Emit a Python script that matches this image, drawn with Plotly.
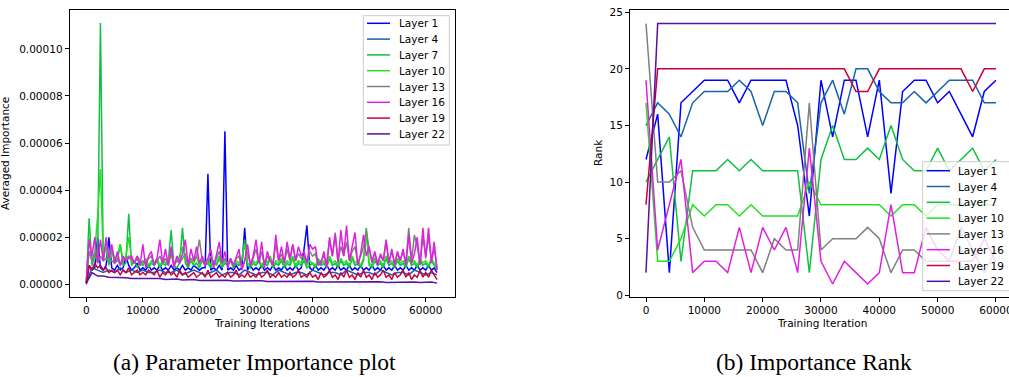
import plotly.graph_objects as go

W, H = 1009, 377

# ---------------- data ----------------
LAYERS = ["Layer 1", "Layer 4", "Layer 7", "Layer 10",
          "Layer 13", "Layer 16", "Layer 19", "Layer 22"]
COLORS = ["#0000ff", "#1764ab", "#10c040", "#22e022",
          "#808080", "#e020e0", "#c8003c", "#5c0fa0"]

# (a) averaged importance, values in units of 1e-6
IMP_UNIT = 1e-6
ITER_FINE = list(range(0, 62001, 500))      # 125 samples
ITER_COARSE = list(range(0, 62001, 1000))   # 63 samples

imp_layer1 = [
    0.5, 8, 6, 7, 20, 7, 6, 8, 20, 7,
    6, 8, 6, 7, 12, 8, 6, 7, 9, 6,
    7, 6, 8, 6, 7, 6, 8, 6, 7, 6,
    8, 6, 7, 6, 8, 6, 7, 6, 8, 7,
    6, 7, 7, 47, 6, 7, 6, 8, 6, 65,
    6, 7, 6, 8, 6, 7, 24, 6, 8, 6,
    7, 6, 8, 6, 7, 6, 8, 6, 7, 6,
    8, 6, 7, 6, 8, 6, 7, 15, 25, 7,
    6, 8, 6, 7, 6, 8, 6, 7, 6, 8,
    6, 7, 6, 8, 6, 7, 6, 8, 6, 7,
    6, 8, 6, 7, 6, 8, 6, 7, 6, 8,
    6, 7, 6, 8, 6, 7, 6, 8, 6, 7,
    6, 8, 6, 7, 5]
imp_layer4 = [
    0.5, 7, 6, 5, 6, 5, 7, 5, 6, 5,
    6, 5, 5, 6, 5, 5, 6, 4, 5, 6,
    5, 4, 5, 6, 4, 5, 5, 4, 6, 5,
    4, 5, 5, 4, 6, 5, 4, 5, 5, 4,
    6, 5, 4, 5, 5, 4, 6, 5, 4, 5,
    5, 4, 6, 5, 4, 5, 5, 4, 6, 5,
    4, 5, 4]
imp_layer7 = [
    0.5, 28, 8, 12, 10, 111, 10, 17, 8, 15,
    9, 10, 17, 8, 9, 30, 8, 10, 7, 9,
    8, 10, 7, 9, 8, 10, 7, 9, 8, 10,
    23, 8, 7, 9, 24, 9, 7, 10, 8, 9,
    7, 10, 8, 9, 7, 10, 8, 11, 7, 9,
    8, 10, 7, 9, 8, 10, 19, 8, 7, 9,
    8, 10, 7, 9, 8, 11, 7, 9, 8, 10,
    7, 9, 8, 11, 7, 9, 8, 10, 7, 8,
    9, 7, 10, 8, 9, 7, 11, 8, 9, 7,
    10, 8, 9, 7, 11, 8, 9, 7, 10, 24,
    8, 7, 10, 8, 9, 7, 11, 8, 9, 7,
    10, 8, 9, 7, 11, 8, 9, 7, 10, 8,
    9, 7, 10, 8, 6]
imp_layer10 = [
    0.5, 20, 10, 14, 29, 49, 11, 17, 10, 16,
    11, 12, 17, 10, 12, 20, 11, 9, 12, 10,
    9, 11, 8, 10, 9, 11, 8, 10, 9, 11,
    14, 9, 10, 12, 16, 11, 8, 10, 9, 12,
    8, 10, 9, 11, 8, 10, 9, 12, 8, 10,
    9, 11, 8, 10, 9, 11, 17, 9, 8, 10,
    9, 11, 8, 10, 9, 12, 8, 10, 9, 11,
    8, 10, 9, 12, 8, 10, 9, 11, 8, 10,
    9, 8, 11, 9, 10, 8, 12, 9, 10, 8,
    11, 9, 10, 8, 12, 9, 10, 8, 11, 21,
    9, 8, 11, 9, 10, 8, 12, 9, 10, 8,
    11, 9, 10, 8, 12, 9, 10, 8, 11, 9,
    10, 8, 11, 9, 7]
imp_layer13 = [
    1, 14, 10, 13, 9, 12, 10, 11, 9, 10,
    9, 11, 8, 10, 11, 12, 10, 9, 11, 8,
    10, 9, 11, 12, 8, 10, 12, 9, 11, 8,
    13, 8, 10, 9, 11, 13, 8, 11, 10, 12,
    19, 10, 8, 9, 12, 8, 11, 14, 9, 11,
    8, 10, 8, 11, 12, 7, 10, 14, 8, 11,
    15, 9, 14, 8, 12, 10, 9, 17, 10, 13,
    9, 15, 10, 17, 10, 13, 11, 12, 9, 14,
    12, 13, 8, 10, 12, 9, 19, 12, 22, 10,
    16, 12, 18, 10, 14, 16, 9, 12, 16, 23,
    15, 10, 13, 9, 12, 10, 18, 9, 14, 9,
    13, 10, 14, 9, 24, 10, 21, 16, 9, 20,
    12, 20, 10, 15, 7]
imp_layer16 = [
    1, 19, 12, 20, 9, 19, 10, 20, 11, 17,
    9, 14, 8, 12, 10, 11, 12, 9, 12, 8,
    17, 7, 12, 14, 8, 11, 19, 9, 15, 8,
    16, 7, 12, 9, 13, 19, 8, 15, 10, 16,
    9, 12, 8, 11, 15, 7, 13, 18, 9, 14,
    7, 11, 8, 12, 15, 6, 10, 17, 8, 12,
    19, 9, 18, 7, 14, 10, 8, 21, 10, 16,
    9, 18, 11, 17, 10, 16, 12, 14, 9, 17,
    15, 16, 8, 9, 14, 7, 20, 12, 21, 9,
    23, 12, 25, 10, 16, 22, 8, 13, 21, 12,
    16, 9, 14, 8, 13, 10, 19, 9, 15, 8,
    14, 10, 15, 8, 21, 9, 13, 20, 8, 24,
    11, 24, 9, 18, 6]
imp_layer19 = [
    0, 8, 6, 9, 7, 8, 6, 7, 5, 6,
    5, 6, 4, 6, 5, 7, 4, 5, 6, 4,
    5, 4, 6, 5, 4, 6, 3, 5, 4, 6,
    4, 5, 3, 6, 4, 5, 3, 4, 5, 3,
    4, 5, 3, 6, 3, 4, 5, 3, 4, 3,
    5, 3, 4, 6, 3, 4, 3, 5, 3, 4,
    3, 5, 3, 4, 6, 3, 4, 3, 5, 3,
    4, 3, 5, 3, 4, 6, 3, 4, 3, 5,
    3, 4, 2, 5, 3, 4, 6, 3, 4, 2,
    5, 3, 6, 3, 4, 2, 5, 3, 6, 3,
    4, 2, 5, 3, 4, 6, 3, 4, 2, 5,
    3, 4, 6, 3, 5, 2, 4, 3, 6, 3,
    5, 3, 6, 4, 2]
imp_layer22 = [
    0.5, 5, 3.5, 3.5, 3, 3, 2.8, 2.8, 2.5, 2.5,
    2.3, 2.3, 2.2, 2.5, 2, 2, 2.2, 1.8, 1.8, 2,
    1.6, 1.6, 1.8, 1.5, 1.5, 1.7, 1.4, 1.4, 1.6, 1.3,
    1.3, 1.5, 1.2, 1.2, 1.4, 1.2, 1.1, 1.3, 1.1, 1.1,
    1.3, 1.0, 1.0, 1.2, 1.0, 0.9, 1.1, 0.9, 1.0, 1.1,
    0.9, 0.9, 1.1, 0.8, 0.9, 1.0, 0.8, 0.9, 1.0, 0.8,
    0.8, 1.0, 0.5]

IMP_SERIES = [
    (ITER_FINE, imp_layer1), (ITER_COARSE, imp_layer4),
    (ITER_FINE, imp_layer7), (ITER_FINE, imp_layer10),
    (ITER_FINE, imp_layer13), (ITER_FINE, imp_layer16),
    (ITER_FINE, imp_layer19), (ITER_COARSE, imp_layer22),
]

IMP_XTICKS = [0, 10000, 20000, 30000, 40000, 50000, 60000]
IMP_YTICKS = [0, 2e-5, 4e-5, 6e-5, 8e-5, 1e-4]
IMP_YTICKTEXT = ["0.00000", "0.00002", "0.00004", "0.00006", "0.00008", "0.00010"]

# (b) importance rank
RANK_ITER = list(range(0, 60001, 2000))   # 31 samples
rank_layer1 = [12, 16, 2, 17, 18, 19, 19, 19, 17, 19, 19, 19, 19, 15, 7, 19,
               14, 19, 19, 14, 19, 9, 18, 19, 19, 17, 18, 16, 14, 18, 19]
rank_layer4 = [15, 17, 16, 14, 17, 18, 18, 18, 19, 18, 15, 18, 18, 17, 9, 17,
               19, 16, 20, 20, 18, 17, 17, 18, 17, 18, 19, 19, 19, 17, 17]
rank_layer7 = [10, 12, 14, 3, 11, 11, 11, 12, 11, 12, 11, 11, 11, 11, 2, 12,
               15, 12, 12, 13, 12, 15, 12, 11, 11, 13, 11, 12, 13, 11, 12]
rank_layer10 = [17, 3, 3, 5, 8, 7, 8, 8, 7, 8, 7, 7, 7, 7, 10, 8,
                8, 8, 8, 8, 8, 7, 8, 8, 7, 8, 8, 8, 8, 8, 8]
rank_layer13 = [24, 10, 10, 11, 6, 4, 4, 4, 4, 4, 2, 5, 4, 4, 17, 4,
                5, 5, 5, 6, 5, 2, 4, 4, 3, 3, 3, 6, 4, 2, 4]
rank_layer16 = [19, 4, 8, 12, 2, 3, 3, 2, 6, 2, 6, 4, 6, 2, 13, 3,
                1, 3, 2, 1, 2, 8, 2, 2, 6, 4, 3, 3, 3, 5, 3]
rank_layer19 = [8, 20, 20, 20, 20, 20, 20, 20, 20, 20, 20, 20, 20, 20, 20, 20,
                20, 20, 18, 18, 20, 20, 20, 20, 20, 20, 20, 20, 18, 20, 20]
rank_layer22 = [2, 24, 24, 24, 24, 24, 24, 24, 24, 24, 24, 24, 24, 24, 24, 24,
                24, 24, 24, 24, 24, 24, 24, 24, 24, 24, 24, 24, 24, 24, 24]
RANK_SERIES = [rank_layer1, rank_layer4, rank_layer7, rank_layer10,
               rank_layer13, rank_layer16, rank_layer19, rank_layer22]
RANK_XTICKS = [0, 10000, 20000, 30000, 40000, 50000, 60000]
RANK_YTICKS = [0, 5, 10, 15, 20, 25]

for xs, ys in IMP_SERIES:
    assert len(xs) == len(ys), (len(xs), len(ys))
for ys in RANK_SERIES:
    assert len(ys) == len(RANK_ITER)

# ---------------- helpers ----------------
def PX(x):
    return x / W


def PY(y):
    return 1 - y / H


FONT = "DejaVu Sans"
FS = 10.5

fig = go.Figure()

for name, color, (xs, ys) in zip(LAYERS, COLORS, IMP_SERIES):
    fig.add_trace(go.Scatter(
        x=xs, y=[v * IMP_UNIT for v in ys], mode="lines", name=name,
        line=dict(color=color, width=1.5), xaxis="x", yaxis="y",
        showlegend=False))

for name, color, ys in zip(LAYERS, COLORS, RANK_SERIES):
    fig.add_trace(go.Scatter(
        x=RANK_ITER, y=ys, mode="lines", name=name,
        line=dict(color=color, width=1.5), xaxis="x2", yaxis="y2",
        showlegend=False))

axis_common = dict(showgrid=False, zeroline=False, showline=True,
                   linecolor="black", linewidth=1, ticks="outside",
                   ticklen=4, tickwidth=1, tickcolor="black",
                   ticklabeloverflow="allow",
                   tickfont=dict(family=FONT, size=FS, color="black"))

fig.update_layout(
    width=W, height=H,
    margin=dict(l=0, r=0, t=0, b=0, autoexpand=False),
    paper_bgcolor="white", plot_bgcolor="white",
    font=dict(family=FONT, size=FS, color="black"),
    showlegend=False,
    xaxis=dict(domain=[PX(69.7), PX(454.7)], range=[-2934, 65123],
               anchor="y", tickvals=IMP_XTICKS, tickformat="d",
               mirror=True, **axis_common),
    yaxis=dict(domain=[PY(296.7), PY(10.3)], range=[-5.27e-6, 116.4e-6],
               anchor="x", tickvals=IMP_YTICKS, ticktext=IMP_YTICKTEXT,
               mirror=True, **axis_common),
    xaxis2=dict(domain=[PX(630), 1.0], range=[-2743, 62232],
                anchor="y2", tickvals=RANK_XTICKS, tickformat="d",
                mirror=True, **axis_common),
    yaxis2=dict(domain=[PY(296.7), PY(10)], range=[-0.124, 25.2],
                anchor="x2", tickvals=RANK_YTICKS, mirror=False,
                **axis_common),
)

annotations = []
shapes = []

# axis titles
annotations.append(dict(text="Training Iterations", x=PX(262), y=PY(323),
                        xref="paper", yref="paper", showarrow=False,
                        xanchor="center", yanchor="middle",
                        font=dict(family=FONT, size=FS, color="black")))
annotations.append(dict(text="Averaged Importance", x=PX(5), y=PY(154),
                        xref="paper", yref="paper", showarrow=False,
                        textangle=-90, xanchor="center", yanchor="middle",
                        font=dict(family=FONT, size=FS, color="black")))
annotations.append(dict(text="Training Iteration", x=PX(822), y=PY(323),
                        xref="paper", yref="paper", showarrow=False,
                        xanchor="center", yanchor="middle",
                        font=dict(family=FONT, size=FS, color="black")))
annotations.append(dict(text="Rank", x=PX(598), y=PY(153),
                        xref="paper", yref="paper", showarrow=False,
                        textangle=-90, xanchor="center", yanchor="middle",
                        font=dict(family=FONT, size=FS, color="black")))

# captions
annotations.append(dict(text="(a) Parameter Importance plot", x=PX(255), y=PY(362),
                        xref="paper", yref="paper", showarrow=False,
                        xanchor="center", yanchor="middle",
                        font=dict(family="Liberation Serif", size=23.5, color="black")))
annotations.append(dict(text="(b) Importance Rank", x=PX(814), y=PY(362),
                        xref="paper", yref="paper", showarrow=False,
                        xanchor="center", yanchor="middle",
                        font=dict(family="Liberation Serif", size=23.5, color="black")))


def add_legend(box_l, box_t, box_r, box_b, line_x0, line_x1, text_x, row0, step):
    shapes.append(dict(type="rect", xref="paper", yref="paper", layer="above",
                       x0=PX(box_l), x1=PX(box_r), y0=PY(box_b), y1=PY(box_t),
                       fillcolor="rgba(255,255,255,0.8)",
                       line=dict(color="#cccccc", width=1)))
    for i, (name, color) in enumerate(zip(LAYERS, COLORS)):
        yy = row0 + step * i
        shapes.append(dict(type="line", xref="paper", yref="paper", layer="above",
                           x0=PX(line_x0), x1=PX(line_x1), y0=PY(yy), y1=PY(yy),
                           line=dict(color=color, width=1.5)))
        annotations.append(dict(text=name, x=PX(text_x), y=PY(yy),
                                xref="paper", yref="paper", showarrow=False,
                                xanchor="left", yanchor="middle",
                                font=dict(family=FONT, size=FS, color="black")))


add_legend(363.3, 15.7, 449.3, 145, 367, 390, 397, 23.3, 15.8)
add_legend(922.7, 161.7, 1014, 290.7, 926.7, 950, 956, 170.7, 15.8)

fig.update_layout(annotations=annotations, shapes=shapes)

fig.write_html(
    "out.html",
    config={"displayModeBar": False},
    post_script="document.body.style.margin='0';document.body.style.overflow='hidden';",
)
